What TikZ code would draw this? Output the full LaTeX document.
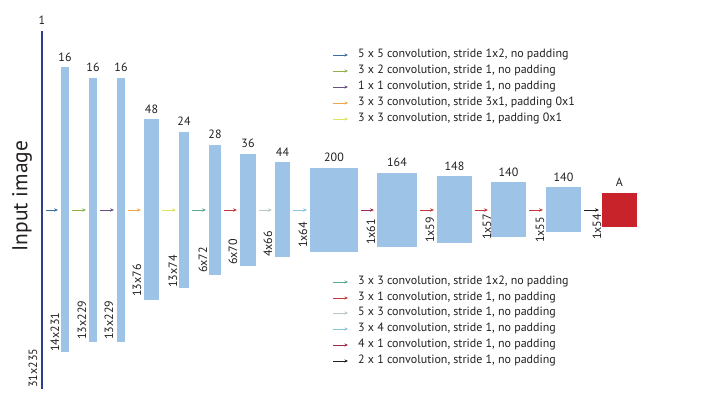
\documentclass[tikz,border=0pt]{standalone}
\usepackage{fontspec}
\setmainfont{PT Sans}
\usetikzlibrary{arrows.meta}
\definecolor{barblue}{RGB}{157,195,230}
\definecolor{boxred}{RGB}{200,35,42}
\definecolor{inblue}{RGB}{45,62,140}
\definecolor{txt}{RGB}{35,31,32}
\definecolor{c1}{RGB}{60,110,165}
\definecolor{c2}{RGB}{140,176,76}
\definecolor{c3}{RGB}{107,79,125}
\definecolor{c4}{RGB}{240,168,72}
\definecolor{c5}{RGB}{223,227,90}
\definecolor{c6}{RGB}{90,168,144}
\definecolor{c7}{RGB}{200,55,60}
\definecolor{c8}{RGB}{184,200,200}
\definecolor{c9}{RGB}{134,197,224}
\definecolor{c10}{RGB}{155,45,74}
\definecolor{c11}{RGB}{35,31,32}
\begin{document}
\begin{tikzpicture}[x=1pt,y=-1pt,
  bar/.style={fill=barblue, draw=none, inner sep=0pt, outer sep=0pt},
  num/.style={anchor=south, inner sep=0pt, yshift=6pt, font=\fontsize{12}{14}\selectfont, text=txt},
  dimlab/.style={rotate=90, anchor=west, inner sep=0pt, font=\fontsize{12}{14}\selectfont, text=txt},
  arr/.style={-{Stealth[length=4pt,width=3.4pt]}, line width=0.8pt, shorten <=3pt, shorten >=3pt},
  larr/.style={-{Stealth[length=3.5pt,width=3pt]}, line width=0.7pt},
  leg/.style={anchor=west, inner sep=0pt, font=\fontsize{12}{14}\selectfont, text=txt}
]
\useasboundingbox (0,0) rectangle (726,403);

% input line
\node[fill=inblue, inner sep=0pt, outer sep=0pt, minimum width=1.6pt, minimum height=358pt] (in) at (42,210) {};
\node[num] at (in.north) {1};
\node[rotate=90, inner sep=0pt, font=\fontsize{21.5}{25}\selectfont, text=txt] (inlab) at (22,196) {Input image};

% bars
\node[bar, minimum width=8pt, minimum height=285pt] (b1) at (65,210) {};
\node[bar, minimum width=8pt, minimum height=264pt] (b2) at (93,210) {};
\node[bar, minimum width=8pt, minimum height=264pt] (b3) at (121,210) {};
\node[bar, minimum width=15pt, minimum height=181pt] (b4) at (151.5,210) {};
\node[bar, minimum width=10pt, minimum height=156pt] (b5) at (184,210) {};
\node[bar, minimum width=12pt, minimum height=130pt] (b6) at (215,210) {};
\node[bar, minimum width=16pt, minimum height=112pt] (b7) at (248,210) {};
\node[bar, minimum width=15pt, minimum height=95pt] (b8) at (282.5,210) {};
\node[bar, minimum width=48pt, minimum height=84pt] (b9) at (334,210) {};
\node[bar, minimum width=40pt, minimum height=74pt] (b10) at (397,210) {};
\node[bar, minimum width=35pt, minimum height=67pt] (b11) at (454.5,210) {};
\node[bar, minimum width=35pt, minimum height=55pt] (b12) at (508.5,210) {};
\node[bar, minimum width=35pt, minimum height=45pt] (b13) at (563.5,210) {};
\node[fill=boxred, inner sep=0pt, outer sep=0pt, minimum width=35pt, minimum height=34pt] (out) at (619.5,210) {};

% channel numbers
\node[num] at (b1.north) {16};
\node[num] at (b2.north) {16};
\node[num] at (b3.north) {16};
\node[num] at (b4.north) {48};
\node[num] at (b5.north) {24};
\node[num] at (b6.north) {28};
\node[num] at (b7.north) {36};
\node[num] at (b8.north) {44};
\node[num] at (b9.north) {200};
\node[num] at (b10.north) {164};
\node[num] at (b11.north) {148};
\node[num] at (b12.north) {140};
\node[num] at (b13.north) {140};
\node[num] at (out.north) {A};

% dimensions
\node[dimlab] at (33,388) {31x235};
\node[dimlab] at (55,352) {14x231};
\node[dimlab] at (82,340) {13x229};
\node[dimlab] at (109,340) {13x229};
\node[dimlab] at (137,297) {13x76};
\node[dimlab] at (173,288) {13x74};
\node[dimlab] at (203,273) {6x72};
\node[dimlab] at (233,265) {6x70};
\node[dimlab] at (268,257) {4x66};
\node[dimlab] at (303,248) {1x64};
\node[dimlab] at (371,245) {1x61};
\node[dimlab] at (430,243) {1x59};
\node[dimlab] at (487,240) {1x57};
\node[dimlab] at (540,243) {1x55};
\node[dimlab] at (597,240) {1x54};

% arrows
\draw[arr, c1] (in) -- (b1);
\draw[arr, c2] (b1) -- (b2);
\draw[arr, c3] (b2) -- (b3);
\draw[arr, c4] (b3) -- (b4);
\draw[arr, c5] (b4) -- (b5);
\draw[arr, c6] (b5) -- (b6);
\draw[arr, c7] (b6) -- (b7);
\draw[arr, c8] (b7) -- (b8);
\draw[arr, c9] (b8) -- (b9);
\draw[arr, c10] (b9) -- (b10);
\draw[arr, c7] (b10) -- (b11);
\draw[arr, c7] (b11) -- (b12);
\draw[arr, c7] (b12) -- (b13);
\draw[arr, c11] (b13) -- (out);

% legend top
\node[leg] (t1) at (358,55) {5 x 5 convolution, stride 1x2, no padding};
\node[leg] (t2) at (358,71) {3 x 2 convolution, stride 1, no padding};
\node[leg] (t3) at (358,87) {1 x 1 convolution, stride 1, no padding};
\node[leg] (t4) at (358,103) {3 x 3 convolution, stride 3x1, padding 0x1};
\node[leg] (t5) at (358,119) {3 x 3 convolution, stride 1, padding 0x1};
\draw[larr, c1] ([xshift=-25pt]t1.west) -- ([xshift=-10pt]t1.west);
\draw[larr, c2] ([xshift=-25pt]t2.west) -- ([xshift=-10pt]t2.west);
\draw[larr, c3] ([xshift=-25pt]t3.west) -- ([xshift=-10pt]t3.west);
\draw[larr, c4] ([xshift=-25pt]t4.west) -- ([xshift=-10pt]t4.west);
\draw[larr, c5] ([xshift=-25pt]t5.west) -- ([xshift=-10pt]t5.west);

% legend bottom
\node[leg] (u1) at (358,282) {3 x 3 convolution, stride 1x2, no padding};
\node[leg] (u2) at (358,298) {3 x 1 convolution, stride 1, no padding};
\node[leg] (u3) at (358,313) {5 x 3 convolution, stride 1, no padding};
\node[leg] (u4) at (358,329) {3 x 4 convolution, stride 1, no padding};
\node[leg] (u5) at (358,345) {4 x 1 convolution, stride 1, no padding};
\node[leg] (u6) at (358,361) {2 x 1 convolution, stride 1, no padding};
\draw[larr, c6] ([xshift=-25pt]u1.west) -- ([xshift=-10pt]u1.west);
\draw[larr, c7] ([xshift=-25pt]u2.west) -- ([xshift=-10pt]u2.west);
\draw[larr, c8] ([xshift=-25pt]u3.west) -- ([xshift=-10pt]u3.west);
\draw[larr, c9] ([xshift=-25pt]u4.west) -- ([xshift=-10pt]u4.west);
\draw[larr, c10] ([xshift=-25pt]u5.west) -- ([xshift=-10pt]u5.west);
\draw[larr, c11] ([xshift=-25pt]u6.west) -- ([xshift=-10pt]u6.west);
\end{tikzpicture}
\end{document}
